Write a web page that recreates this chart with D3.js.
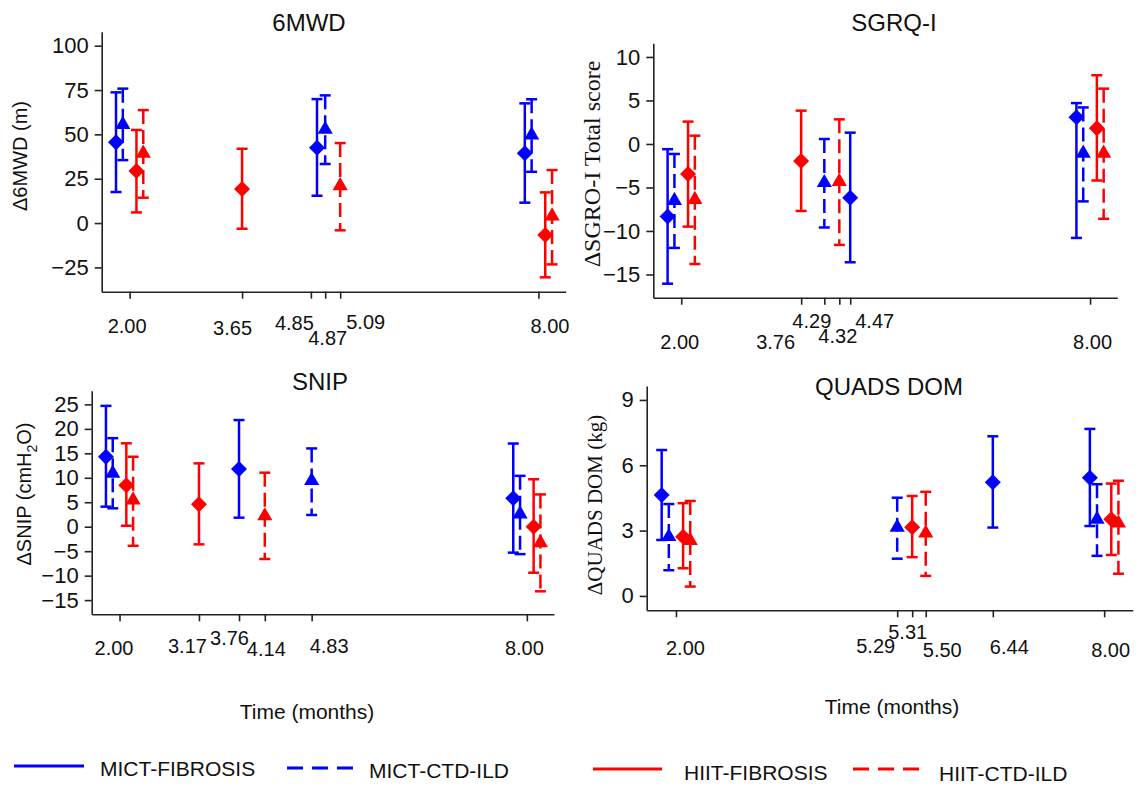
<!DOCTYPE html>
<html>
<head>
<meta charset="utf-8">
<script src="https://cdn.jsdelivr.net/npm/d3@7"></script>
<style>
  body { margin: 0; background: #fff; }
</style>
</head>
<body>
<div id="chart"></div>
<script>
// groups: 0 MICT-FIBROSIS, 1 MICT-CTD-ILD, 2 HIIT-FIBROSIS, 3 HIIT-CTD-ILD
const groups = ["MICT-FIBROSIS", "MICT-CTD-ILD", "HIIT-FIBROSIS", "HIIT-CTD-ILD"];

// rows: [group, plotted time (months), mean change, lower CI, upper CI]
const mwdRows = [
  [0, 1.80, 45.5, 17.5, 73.7],
  [1, 1.90, 55.5, 35.5, 75.8],
  [2, 2.10, 29.3, 6.0, 52.5],
  [3, 2.20, 39.3, 14.3, 63.7],
  [2, 3.65, 19.2, -3.2, 41.9],
  [0, 4.75, 42.5, 15.4, 69.9],
  [1, 4.87, 52.8, 33.3, 72.0],
  [3, 5.09, 21.0, -4.1, 45.1],
  [0, 7.80, 39.3, 11.5, 67.5],
  [1, 7.90, 49.6, 28.9, 69.8],
  [2, 8.10, -6.8, -30.6, 17.3],
  [3, 8.20, 3.9, -23.3, 29.9]
];
const mwdTicks = [2, 3.65, 4.66, 4.87, 5.09, 8];
const mwdTickLabels = ["2.00", "3.65", "4.85", "4.87", "5.09", "8.00"];
const mwdYTicks = [-25, 0, 25, 50, 75, 100];

const sgrqRows = [
  [0, 1.80, -8.35, -16.06, -0.6],
  [1, 1.90, -6.5, -11.95, -1.15],
  [2, 2.10, -3.45, -9.5, 2.57],
  [3, 2.20, -6.4, -13.8, 0.95],
  [2, 3.76, -1.95, -7.7, 3.83],
  [1, 4.10, -4.45, -9.6, 0.57],
  [3, 4.32, -4.33, -11.6, 2.83],
  [0, 4.48, -6.17, -13.6, 1.3],
  [0, 7.80, 3.07, -10.8, 4.7],
  [1, 7.90, -1.07, -6.6, 4.2],
  [2, 8.10, 1.8, -4.2, 7.9],
  [3, 8.20, -1.07, -8.6, 6.36]
];
const sgrqTicks = [2, 3.76, 4.10, 4.32, 4.48, 8];
const sgrqTickLabels = ["2.00", "3.76", "4.29", "4.32", "4.47", "8.00"];
const sgrqYTicks = [-15, -10, -5, 0, 5, 10];

const snipRows = [
  [0, 1.80, 14.3, 4.1, 24.7],
  [1, 1.90, 10.9, 3.76, 18.1],
  [2, 2.10, 8.5, 0.2, 17.05],
  [3, 2.20, 5.45, -3.9, 14.3],
  [2, 3.17, 4.57, -3.6, 12.95],
  [0, 3.76, 11.8, 1.85, 21.8],
  [3, 4.14, 2.2, -6.6, 11.05],
  [1, 4.83, 9.4, 2.4, 16.0],
  [0, 7.80, 5.8, -5.3, 17.0],
  [1, 7.90, 2.6, -5.6, 10.4],
  [2, 8.10, 0.0, -9.4, 9.7],
  [3, 8.20, -3.3, -13.2, 6.6]
];
const snipTicks = [2, 3.17, 3.76, 4.14, 4.83, 8];
const snipTickLabels = ["2.00", "3.17", "3.76", "4.14", "4.83", "8.00"];
const snipYTicks = [-15, -10, -5, 0, 5, 10, 15, 20, 25];

const quadsRows = [
  [0, 1.80, 4.64, 2.57, 6.7],
  [1, 1.90, 2.72, 1.18, 4.22],
  [2, 2.10, 2.72, 1.27, 4.26],
  [3, 2.20, 2.54, 0.43, 4.36],
  [1, 5.10, 3.15, 1.71, 4.51],
  [2, 5.31, 3.15, 1.78, 4.59],
  [3, 5.50, 2.88, 0.92, 4.78],
  [0, 6.44, 5.22, 3.14, 7.33],
  [0, 7.80, 5.43, 3.21, 7.67],
  [1, 7.90, 3.52, 1.84, 5.13],
  [2, 8.10, 3.52, 1.88, 5.16],
  [3, 8.20, 3.34, 1.02, 5.29]
];
const quadsTicks = [2, 5.10, 5.31, 5.50, 6.44, 8];
const quadsTickLabels = ["2.00", "5.29", "5.31", "5.50", "6.44", "8.00"];
const quadsYTicks = [0, 3, 6, 9];

// ---- styling / layout ----
const groupColor = ["#0000ff", "#0000ff", "#ff0000", "#ff0000"];
const groupDash = [null, "14,6", null, "14,6"];
const groupShape = ["diamond", "triangle", "diamond", "triangle"];

const sans = "'Liberation Sans', Arial, sans-serif";
const serif = "'Liberation Serif', 'Times New Roman', serif";
const xDomain = [1.59, 8.4];

const panels = [
  { rows: mwdRows, ticks: mwdTicks, labels: mwdTickLabels, yTicks: mwdYTicks,
    left: 101.7, right: 565.7, top: 31.7, bottom: 291.7, yDomain: [-38.7, 107.9],
    labelOff: [[-3, 34], [-10, 36], [-17, 31], [2, 46], [25, 30], [11, 34]],
    title: "6MWD", titlePos: [309, 23],
    yLabel: "Δ6MWD (m)", yLabelPos: [20, 156], yLabelFont: sans, yLabelSize: 20 },
  { rows: sgrqRows, ticks: sgrqTicks, labels: sgrqTickLabels, yTicks: sgrqYTicks,
    left: 653.3, right: 1117.3, top: 43.3, bottom: 297.7, yDomain: [-17.67, 11.57],
    labelOff: [[-2, 44], [-26, 44], [-13, 23], [-2, 38], [24, 23], [2, 44]],
    title: "SGRQ-I", titlePos: [894, 23],
    yLabel: "ΔSGRO-I Total score", yLabelPos: [592, 164], yLabelFont: serif, yLabelSize: 24 },
  { rows: snipRows, ticks: snipTicks, labels: snipTickLabels, yTicks: snipYTicks,
    left: 91.7, right: 554, top: 390.7, bottom: 614.3, yDomain: [-17.9, 27.8],
    labelOff: [[-6, 34], [-12, 32], [-10, 24], [1, 35], [17, 32], [-3, 34]],
    title: "SNIP", titlePos: [320, 382],
    yLabel: null, yLabelPos: [24, 494],
    xTitlePos: [307, 712] },
  { rows: quadsRows, ticks: quadsTicks, labels: quadsTickLabels, yTicks: quadsYTicks,
    left: 646.7, right: 1132.7, top: 386, bottom: 610.3, yDomain: [-0.66, 9.64],
    labelOff: [[9, 38], [-22, 36], [-5, 22], [16, 40], [16, 37], [6, 40]],
    title: "QUADS DOM", titlePos: [889, 387],
    yLabel: "ΔQUADS DOM (kg)", yLabelPos: [595, 505], yLabelFont: serif, yLabelSize: 21,
    xTitlePos: [892, 707] }
];

const svg = d3.select("#chart").append("svg")
  .attr("width", 1139)
  .attr("height", 790)
  .style("font-family", sans);

const diamond = d3.symbol().type(d3.symbolSquare).size(128)();
const triangle = d3.symbol().type(d3.symbolTriangle).size(100)();

panels.forEach(p => {
  let x = d3.scaleLinear().domain(xDomain).range([p.left, p.right]);
  let y = d3.scaleLinear().domain(p.yDomain).range([p.bottom, p.top]);
  let g = svg.append("g");

  // y axis
  let yAxis = d3.axisLeft(y).tickValues(p.yTicks).tickSize(7).tickSizeOuter(0).tickPadding(6);
  let ya = g.append("g")
    .attr("transform", "translate(" + p.left + ",0)")
    .call(yAxis);
  ya.attr("font-size", 22).attr("font-family", sans);

  // x axis with custom (staggered) tick labels
  let xAxis = d3.axisBottom(x).tickValues(p.ticks).tickSize(7).tickSizeOuter(0)
    .tickFormat((d, i) => p.labels[i]);
  let xa = g.append("g")
    .attr("transform", "translate(0," + p.bottom + ")")
    .call(xAxis);
  xa.attr("font-size", 20).attr("font-family", sans);
  xa.selectAll(".tick text")
    .attr("x", (d, i) => p.labelOff[i][0])
    .attr("y", (d, i) => p.labelOff[i][1])
    .attr("dy", "0.35em");

  [ya, xa].forEach(a => {
    a.selectAll("path.domain, .tick line").attr("stroke", "#222").attr("stroke-width", 1.6);
    a.selectAll(".tick text").attr("fill", "#111");
  });

  // error bars
  let bars = g.selectAll(".bar")
    .data(p.rows)
    .enter().append("g")
    .attr("class", "bar")
    .attr("stroke", d => groupColor[d[0]])
    .attr("stroke-width", 2.5)
    .attr("fill", "none");

  bars.append("line")
    .attr("x1", d => x(d[1])).attr("x2", d => x(d[1]))
    .attr("y1", d => y(d[4])).attr("y2", d => y(d[3]))
    .attr("stroke-dasharray", d => groupDash[d[0]]);

  bars.append("line")
    .attr("x1", d => x(d[1]) - 5.5).attr("x2", d => x(d[1]) + 5.5)
    .attr("y1", d => y(d[4])).attr("y2", d => y(d[4]));

  bars.append("line")
    .attr("x1", d => x(d[1]) - 5.5).attr("x2", d => x(d[1]) + 5.5)
    .attr("y1", d => y(d[3])).attr("y2", d => y(d[3]));

  // markers
  g.selectAll(".marker")
    .data(p.rows)
    .enter().append("path")
    .attr("class", "marker")
    .attr("d", d => groupShape[d[0]] === "diamond" ? diamond : triangle)
    .attr("transform", d => "translate(" + x(d[1]) + "," + y(d[2]) + ")" +
      (groupShape[d[0]] === "diamond" ? " rotate(45)" : ""))
    .attr("fill", d => groupColor[d[0]]);

  // panel title
  g.append("text")
    .attr("x", p.titlePos[0]).attr("y", p.titlePos[1])
    .attr("dy", "0.35em")
    .attr("text-anchor", "middle")
    .attr("font-size", 24)
    .attr("fill", "#111")
    .text(p.title);

  // y axis title
  let yl = g.append("text")
    .attr("transform", "translate(" + p.yLabelPos[0] + "," + p.yLabelPos[1] + ") rotate(-90)")
    .attr("dy", "0.35em")
    .attr("text-anchor", "middle")
    .attr("fill", "#111");
  if (p.yLabel) {
    yl.attr("font-family", p.yLabelFont).attr("font-size", p.yLabelSize).text(p.yLabel);
  } else {
    // SNIP label with subscript
    yl.attr("font-family", sans).attr("font-size", 20);
    yl.append("tspan").text("ΔSNIP (cmH");
    yl.append("tspan").attr("font-size", 14).attr("dy", "0.45em").text("2");
    yl.append("tspan").attr("dy", "-0.3em").text("O)");
  }

  if (p.xTitlePos) {
    g.append("text")
      .attr("x", p.xTitlePos[0]).attr("y", p.xTitlePos[1])
      .attr("dy", "0.35em")
      .attr("text-anchor", "middle")
      .attr("font-size", 21)
      .attr("fill", "#111")
      .text("Time (months)");
  }
});

// legend
const legendPos = [
  { x1: 14, x2: 84, ly: 766, tx: 100, ty: 769 },
  { x1: 287, x2: 354, ly: 768, tx: 369, ty: 771 },
  { x1: 593, x2: 662, ly: 769, tx: 684, ty: 773 },
  { x1: 853, x2: 921, ly: 769, tx: 939, ty: 774 }
];

let legend = svg.append("g").attr("class", "legend");
groups.forEach((name, i) => {
  let lp = legendPos[i];
  legend.append("line")
    .attr("x1", lp.x1).attr("x2", lp.x2)
    .attr("y1", lp.ly).attr("y2", lp.ly)
    .attr("stroke", groupColor[i])
    .attr("stroke-width", 3)
    .attr("stroke-dasharray", groupDash[i] ? "16,9" : null);
  legend.append("text")
    .attr("x", lp.tx).attr("y", lp.ty)
    .attr("dy", "0.35em")
    .attr("font-size", 21)
    .attr("fill", "#111")
    .text(name);
});
</script>
</body>
</html>
